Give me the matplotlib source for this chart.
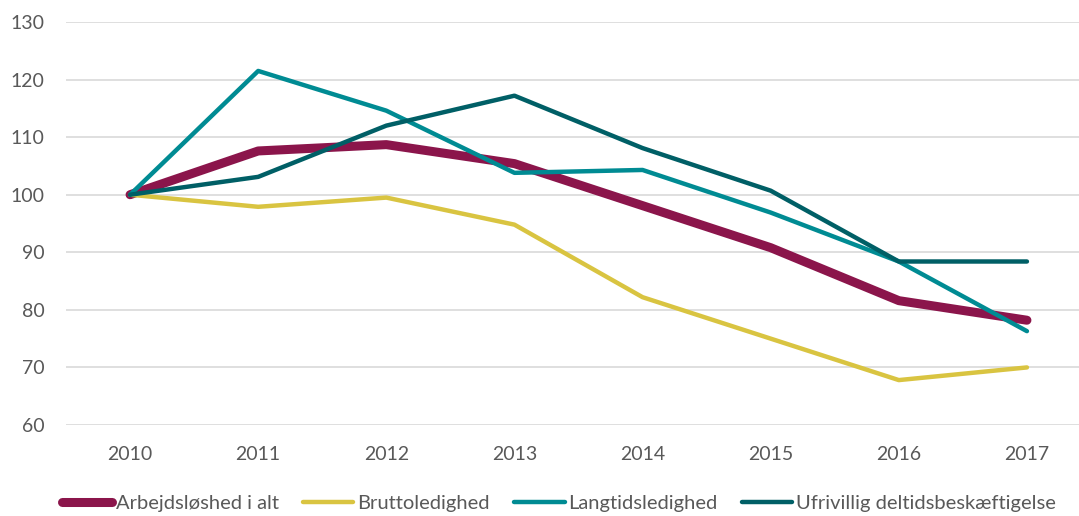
import matplotlib.pyplot as plt

years = ['2010', '2011', '2012', '2013', '2014', '2015', '2016', '2017']
arbejdsloshed = [100, 107.6, 108.7, 105.4, 98.1, 90.8, 81.6, 78.2]
bruttoledighed = [100, 97.9, 99.5, 94.8, 82.2, 75.0, 67.8, 70.0]
langtidsledighed = [100, 121.5, 114.6, 103.8, 104.3, 96.9, 88.4, 76.3]
ufrivillig = [100, 103.1, 112.0, 117.2, 108.1, 100.7, 88.4, 88.4]

labels = ['Arbejdsløshed i alt', 'Bruttoledighed', 'Langtidsledighed', 'Ufrivillig deltidsbeskæftigelse']
colors = ['#8B154B', '#D9C441', '#008B93', '#005F66']
widths = [6.5, 3.2, 3.2, 3.2]

plt.rcParams['font.family'] = ['Lato', 'DejaVu Sans']
fig = plt.figure(figsize=(10.79, 5.16), dpi=100)
ax = fig.add_axes([66 / 1079, 91 / 516, (1091 - 66) / 1079, (425 - 22) / 516])

x = range(len(years))
for series, lab, c, w in zip([arbejdsloshed, bruttoledighed, langtidsledighed, ufrivillig], labels, colors, widths):
	ax.plot(x, series, color=c, linewidth=w, label=lab, solid_capstyle='round', solid_joinstyle='round')

ax.set_xlim(-0.5, 7.5)
ax.set_ylim(60, 130)
ax.set_yticks(range(60, 131, 10))
ax.set_xticks(list(x))
ax.set_xticklabels(years)
ax.grid(axis='y', color='#D9D9D9', linewidth=1.2)
ax.set_axisbelow(True)
for s in ax.spines.values():
	s.set_visible(False)
ax.tick_params(length=0, labelsize=14, colors='#595959')
ax.tick_params(axis='x', pad=15)
ax.tick_params(axis='y', pad=15.5)

leg = fig.legend(loc='center', bbox_to_anchor=(0.518, 0.025), ncol=4, frameon=False, fontsize=14.5,
	handlelength=2.5, handletextpad=0.2, columnspacing=1.2)
for t in leg.get_texts():
	t.set_color('#595959')

fig.savefig('out.png', dpi=100)
